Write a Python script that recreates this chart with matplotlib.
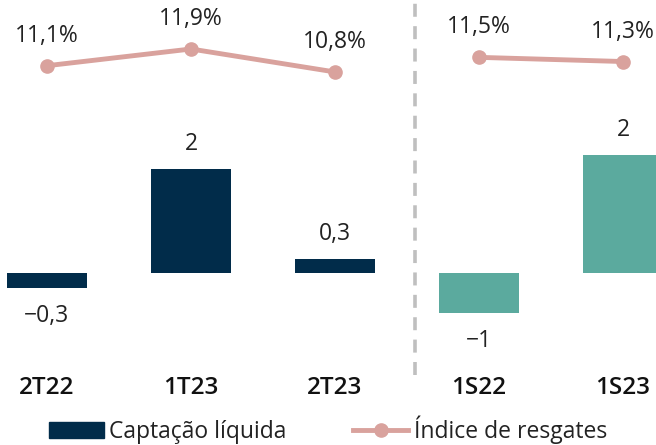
import matplotlib.pyplot as plt
from matplotlib.lines import Line2D
from matplotlib.patches import Patch

plt.rcParams['font.family'] = ['Open Sans', 'DejaVu Sans']

periodos = ['2T22', '1T23', '2T23', '1S22', '1S23']
captacao = [-0.31, 2.17, 0.30, -0.83, 2.46]
captacao_txt = ['−0,3', '2', '0,3', '−1', '2']
resgates = [11.1, 11.9, 10.8, 11.5, 11.3]
resgates_txt = ['11,1%', '11,9%', '10,8%', '11,5%', '11,3%']

navy = '#012c4a'
teal = '#5baa9e'
rosa = '#d9a29d'
cores = [navy, navy, navy, teal, teal]
x = list(range(len(periodos)))

fig = plt.figure(figsize=(6.56, 4.45), dpi=100)
ax = fig.add_axes([0, 70/445, 1, 375/445])
ax.bar(x, captacao, width=0.556, color=cores)
ax.set_xlim(-47/144, (656-47)/144)
ax.set_ylim(-2.119, 5.694)
for i, v in enumerate(captacao):
    off = 25 if v > 0 else -28
    ax.annotate(captacao_txt[i], (i, v), xytext=(0, off), textcoords='offset pixels',
                ha='center', va='center', fontsize=16.5, color='#222222')

ax.axvline((415-47)/144, ymin=0, ymax=1, color='#bfbfbf', lw=2.6,
           linestyle=(0, (3.6, 2.6)))

ax.set_xticks(x)
ax.set_xticklabels(periodos, fontsize=17.5, fontweight='semibold', color='#111111')
ax.tick_params(axis='x', length=0, pad=1)
ax.set_yticks([])
for s in ax.spines.values():
    s.set_visible(False)

ax2 = ax.twinx()
ax2.set_ylim(-3.698, 14.244)
ax2.plot(x[:3], resgates[:3], color=rosa, lw=3.5, marker='o', ms=9.5)
ax2.plot(x[3:], resgates[3:], color=rosa, lw=3.5, marker='o', ms=9.5)
for i, v in enumerate(resgates):
    ax2.annotate(resgates_txt[i], (i, v), xytext=(0, 30), textcoords='offset pixels',
                 ha='center', va='center', fontsize=16.5, color='#222222')
ax2.set_yticks([])
for s in ax2.spines.values():
    s.set_visible(False)

handles = [Patch(color=navy),
           Line2D([], [], color=rosa, lw=3.5, marker='o', ms=9.5)]
fig.legend(handles, ['Captação líquida', 'Índice de resgates'], loc='center',
           bbox_to_anchor=(0.5, 15/445), ncol=2, frameon=False, fontsize=16.5,
           handlelength=2.4, handletextpad=0.25, columnspacing=2.9,
           labelcolor='#222222')

fig.savefig('out.png', dpi=100)
